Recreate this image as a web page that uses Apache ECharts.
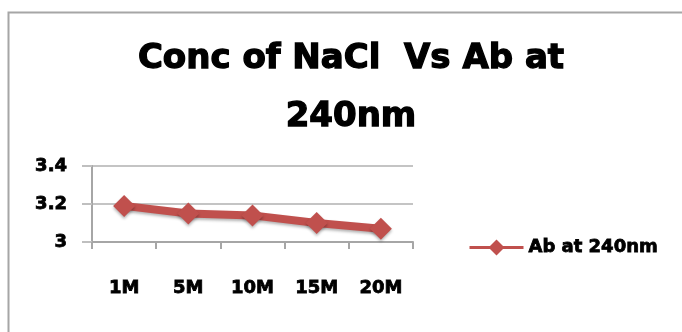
<!DOCTYPE html>
<html><head><meta charset="utf-8">
<script src="https://cdn.jsdelivr.net/npm/echarts@6/dist/echarts.min.js"></script>
<style>html,body{margin:0;padding:0;background:#fff}#c{width:682px;height:332px}</style>
</head><body><div id="c"></div>
<script>
const titleText = "Conc of NaCl  Vs Ab at\n240nm";
const categories = ["1M", "5M", "10M", "15M", "20M"];
const seriesName = "Ab at 240nm";
const values = [3.19, 3.15, 3.14, 3.10, 3.07];
const yMin = 3, yMax = 3.4, yStep = 0.2;

const chart = echarts.init(document.getElementById('c'), null, {renderer: 'canvas'});
const FONT = 'DejaVu Sans';
const labelStyle = {fontFamily: FONT, fontWeight: 'bold', fontSize: 18, color: '#000', textBorderColor: '#000', textBorderWidth: 0.8};
chart.setOption({
  animation: false,
  backgroundColor: '#fff',
  graphic: [{
    type: 'rect', left: 6, top: 10, silent: true,
    shape: {x: 0, y: 0, width: 700, height: 340},
    style: {fill: 'none', stroke: '#a6a6a6', lineWidth: 2}
  }],
  title: {
    text: titleText, left: 346, top: 25, textAlign: 'center',
    textStyle: {fontFamily: FONT, fontWeight: 'bold', fontSize: 34, lineHeight: 58, color: '#000', textBorderColor: '#000', textBorderWidth: 1.3}
  },
  legend: {
    left: 463, top: 233, itemWidth: 54, itemHeight: 20, itemGap: 5,
    textStyle: labelStyle,
    lineStyle: {width: 3, shadowBlur: 0, shadowOffsetY: 0},
    data: [seriesName]
  },
  grid: {left: 92, right: 269, top: 166, bottom: 90, containLabel: false},
  xAxis: {
    type: 'category', data: categories, boundaryGap: true,
    axisLine: {lineStyle: {color: '#a6a6a6', width: 2}},
    axisTick: {show: true, length: 7, lineStyle: {color: '#a6a6a6', width: 2}},
    axisLabel: Object.assign({margin: 37}, labelStyle)
  },
  yAxis: {
    type: 'value', min: yMin, max: yMax, interval: yStep,
    axisLine: {show: true, lineStyle: {color: '#a6a6a6', width: 2}},
    axisTick: {show: true, length: 10, lineStyle: {color: '#bfbfbf', width: 2}},
    splitLine: {lineStyle: {color: '#c4c4c4', width: 2}},
    axisLabel: Object.assign({margin: 25}, labelStyle)
  },
  series: [{
    name: seriesName, type: 'line', data: values,
    symbol: 'diamond', symbolSize: 22,
    lineStyle: {color: '#c0504d', width: 8, shadowColor: 'rgba(0,0,0,0.3)', shadowBlur: 3, shadowOffsetY: 2},
    itemStyle: {color: '#c0504d', shadowColor: 'rgba(0,0,0,0.3)', shadowBlur: 3, shadowOffsetY: 2}
  }]
});
</script></body></html>
